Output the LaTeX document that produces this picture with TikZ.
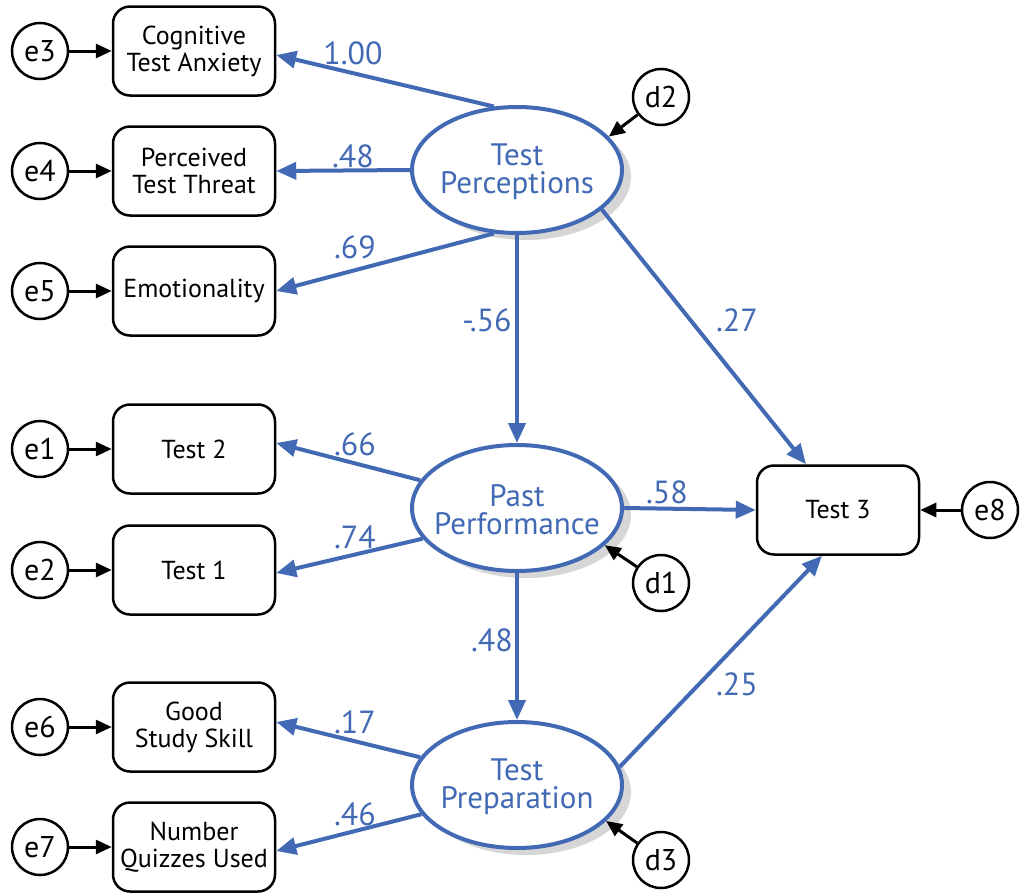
\documentclass[tikz,border=0pt]{standalone}
\usepackage{fontspec}
\setmainfont{PT Sans}
\usetikzlibrary{arrows.meta,shapes.geometric,shadows}
\definecolor{semblue}{RGB}{66,106,180}
\tikzset{
  obs/.style={draw=black,line width=2.5pt,rounded corners=17pt,fill=white,minimum width=162pt,minimum height=89pt,align=center,font=\fontsize{26}{27}\selectfont,inner sep=0pt},
  lat/.style={ellipse,draw=semblue,line width=4pt,fill=white,minimum width=210pt,minimum height=126pt,inner sep=0pt,
    drop shadow={shadow xshift=9pt,shadow yshift=-7pt,fill=black!16,opacity=1}},
  lattext/.style={inner sep=0pt,align=center,text=semblue,font=\fontsize{31}{28}\selectfont},
  err/.style={circle,draw=black,line width=2.5pt,fill=white,minimum size=56pt,inner sep=0pt,font=\fontsize{30}{30}\selectfont},
  path/.style={draw=semblue,line width=4pt,-{Triangle[length=20pt,width=17pt]}},
  epath/.style={draw=black,line width=3pt,-{Triangle[length=16pt,width=14pt]}},
  coef/.style={text=semblue,font=\fontsize{32}{32}\selectfont,inner sep=0pt}
}
\begin{document}
\begin{tikzpicture}[x=1pt,y=-1pt]
\useasboundingbox (0,0) rectangle (1020,894);
% observed boxes
\node[obs] (cog) at (194,51) {Cognitive\\Test Anxiety};
\node[obs] (per) at (194,171) {Perceived\\Test Threat};
\node[obs] (emo) at (194,291) {Emotionality};
\node[obs] (t2) at (194,449) {Test 2};
\node[obs] (t1) at (194,570) {Test 1};
\node[obs] (gss) at (194,727) {Good\\Study Skill};
\node[obs] (nqu) at (194,847) {Number\\Quizzes Used};
\node[obs] (t3) at (838,510) {Test 3};
% errors
\node[err] (e3) at (40,51) {e3};
\node[err] (e4) at (40,171) {e4};
\node[err] (e5) at (40,291) {e5};
\node[err] (e1) at (40,449) {e1};
\node[err] (e2) at (40,570) {e2};
\node[err] (e6) at (40,727) {e6};
\node[err] (e7) at (40,847) {e7};
\node[err] (e8) at (990,510) {e8};
% latent
\node[lat] (tp) at (517,170) {};
\node[lattext] (tpt) at ([yshift=-2pt]tp.center) {Test\\Perceptions};
\node[lat] (pp) at (517,508) {};
\node[lattext] (ppt) at ([yshift=-2pt]pp.center) {Past\\Performance};
\node[lat] (tr) at (517,785) {};
\node[lattext] (trt) at ([yshift=-2pt]tr.center) {Test\\Preparation};
% disturbances
\node[err] (d2) at (661,97) {d2};
\node[err] (d1) at (661,583) {d1};
\node[err] (d3) at (661,860) {d3};
% error arrows
\foreach \a/\b in {e3/cog,e4/per,e5/emo,e1/t2,e2/t1,e6/gss,e7/nqu}
  \draw[epath] (\a) -- (\b.west);
\draw[epath] (e8) -- (t3.east);
\draw[epath] (d2) -- (tp.20);
\draw[epath] (d1) -- (pp.337);
\draw[epath] (d3) -- (tr.338);
% structural paths
\draw[path] (tp.110) -- ([yshift=-4pt]cog.east);
\draw[path] (tp.180) -- (per.east);
\draw[path] (tp.250) -- (emo.east);
\draw[path] (tp.270) -- (pp.90);
\draw[path] (tp.335) -- ([xshift=-32pt]t3.north);
\draw[path] (pp.164) -- ([yshift=6pt]t2.east);
\draw[path] (pp.198) -- ([yshift=-3pt]t1.east);
\draw[path] (pp.0) -- (t3.west);
\draw[path] (pp.270) -- (tr.90);
\draw[path] (tr.164) -- ([yshift=5pt]gss.east);
\draw[path] (tr.197) -- ([yshift=-4pt]nqu.east);
\draw[path] (tr.10) -- ([xshift=-16pt]t3.south);
% coefficients
\node[coef] (c1) at (353,53) {1.00};
\node[coef] (c2) at (353,156) {.48};
\node[coef] (c3) at (355,247) {.69};
\node[coef] (c4) at (487,320) {-.56};
\node[coef] (c5) at (737,320) {.27};
\node[coef] (c6) at (355,444) {.66};
\node[coef] (c7) at (355,537) {.74};
\node[coef] (c8) at (667,492) {.58};
\node[coef] (c9) at (492,640) {.48};
\node[coef] (c10) at (737,684) {.25};
\node[coef] (c11) at (355,722) {.17};
\node[coef] (c12) at (355,814) {.46};
\end{tikzpicture}
\end{document}
